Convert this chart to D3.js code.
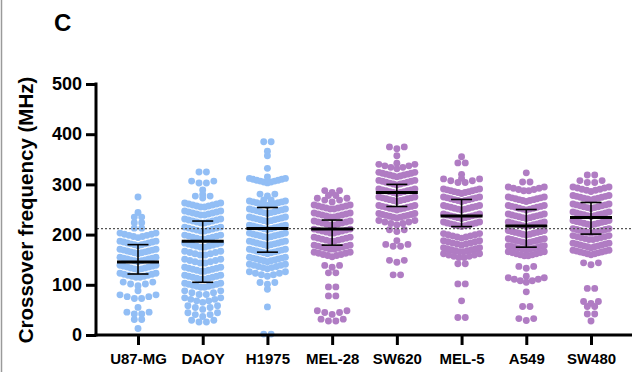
<!DOCTYPE html>
<html>
<head>
<meta charset="utf-8">
<script src="https://cdn.jsdelivr.net/npm/d3@7"></script>
<style>
  html, body { margin: 0; padding: 0; background: #fff; }
  svg { display: block; font-family: "Liberation Sans", Arial, sans-serif; }
</style>
</head>
<body>
<svg id="chart" width="632" height="372"></svg>
<script>
// Cell lines along the x axis
const cellLines = ["U87-MG", "DAOY", "H1975", "MEL-28", "SW620", "MEL-5", "A549", "SW480"];

// Crossover frequency of single cells: [MHz, number of cells at that value]
const u87mg = [[275,1],[244,1],[233,2],[222,2],[211,2],[194,9],[178,11],[162,11],[146,11],[130,11],[114,10],[98,5],[88,1],[71,6],[55,1],[40,4],[29,2],[13,1]];
const daoy  = [[323,2],[301,4],[289,1],[280,1],[273,3],[254,10],[238,10],[222,10],[206,10],[190,10],[174,10],[158,8],[142,8],[126,10],[110,10],[94,10],[79,6],[65,7],[51,5],[37,5],[24,4]];
const h1975 = [[383,2],[366,1],[357,1],[332,1],[315,1],[303,11],[277,3],[267,2],[258,11],[242,11],[226,11],[210,11],[194,11],[178,11],[162,11],[146,11],[132,9],[117,7],[101,3],[91,1],[56,1],[0,2]];
const mel28 = [[284,3],[276,2],[265,5],[250,10],[234,10],[218,10],[202,10],[186,10],[170,10],[156,9],[135,3],[122,2],[94,2],[76,2],[41,5],[26,4]];
const sw620 = [[371,3],[357,1],[342,1],[331,7],[315,11],[299,11],[282,11],[266,11],[249,11],[233,11],[219,7],[206,3],[188,1],[175,4],[145,3],[118,2]];
const mel5  = [[355,1],[341,2],[320,1],[312,1],[302,6],[282,11],[266,11],[249,11],[232,11],[216,11],[193,9],[179,9],[165,10],[153,8],[140,2],[100,2],[68,1],[33,2]];
const a549  = [[323,1],[303,2],[286,8],[266,11],[249,11],[232,11],[216,11],[199,11],[183,11],[169,11],[157,10],[133,3],[117,1],[105,7],[86,1],[55,2],[29,3]];
const sw480 = [[317,2],[302,4],[286,9],[269,11],[252,11],[236,11],[219,11],[203,11],[189,10],[174,11],[160,11],[140,3],[91,2],[63,3],[55,2],[40,2],[28,1]];
const cells = [u87mg, daoy, h1975, mel28, sw620, mel5, a549, sw480];

// Median with interquartile range per cell line (MHz)
const medians = [145.5, 187, 212, 211, 284, 237, 217, 234];
const q1      = [121.5, 105, 165, 179, 256, 216, 175, 201];
const q3      = [180, 227, 254, 229, 300, 270, 250, 264];

// Dotted reference level (MHz) and axis ticks
const referenceLevel = 212;
const yTicks = [0, 100, 200, 300, 400, 500];

const BLUE = "#92bef5", PURPLE = "#b07cc3";
const colorOf = i => (i < 3 ? BLUE : PURPLE);

const svg = d3.select("#chart");

const x = d3.scalePoint().domain(cellLines).range([138, 591]);
const y = d3.scaleLinear().domain([0, 500]).range([335, 84]);

// frame line on the left edge
svg.append("line").attr("x1", 1.5).attr("x2", 1.5).attr("y1", 0).attr("y2", 372)
  .attr("stroke", "#9a9a9a").attr("stroke-width", 1.5);

// panel letter
svg.append("text").attr("x", 54).attr("y", 31)
  .attr("font-size", 24).attr("font-weight", "bold").text("C");

// Prism-style scatter: cells sharing a value form a row, squeezed to the column width
const DOT = 6.9, MAX_SPREAD = 36, STEP = 7.4, RISE = 0.25;
function rowLayout(rows) {
  const pts = [];
  rows.forEach(([v, n]) => {
    const s = n > 1 ? Math.min(STEP, MAX_SPREAD / (n - 1)) : 0;
    for (let j = 0; j < n; j++) {
      const dx = (j - (n - 1) / 2) * s;
      pts.push({ v, dx, dy: -RISE * Math.abs(dx) });
    }
  });
  return pts;
}

const dotLayer = svg.append("g");
cells.forEach((rows, i) => {
  const cx = x(cellLines[i]);
  dotLayer.append("g")
    .selectAll("circle")
    .data(rowLayout(rows))
    .join("circle")
    .attr("cx", d => cx + d.dx)
    .attr("cy", d => y(d.v) + d.dy)
    .attr("r", DOT / 2)
    .attr("fill", colorOf(i));
});

// dotted reference line
svg.append("line")
  .attr("x1", 97).attr("x2", 632)
  .attr("y1", y(referenceLevel)).attr("y2", y(referenceLevel))
  .attr("stroke", "#555").attr("stroke-width", 1.3).attr("stroke-dasharray", "2,2");

// median and interquartile range
const stats = svg.append("g").attr("stroke", "#000");
cellLines.forEach((name, i) => {
  const cx = x(name);
  stats.append("line").attr("x1", cx).attr("x2", cx)
    .attr("y1", y(q1[i])).attr("y2", y(q3[i])).attr("stroke-width", 1.6);
  [q1[i], q3[i]].forEach(v => {
    stats.append("line").attr("x1", cx - 10.5).attr("x2", cx + 10.5)
      .attr("y1", y(v)).attr("y2", y(v)).attr("stroke-width", 1.6);
  });
  stats.append("line").attr("x1", cx - 21).attr("x2", cx + 21)
    .attr("y1", y(medians[i])).attr("y2", y(medians[i])).attr("stroke-width", 3);
});

// axes
const yAxis = svg.append("g").attr("transform", "translate(96,0)")
  .call(d3.axisLeft(y).tickValues(yTicks).tickSize(10).tickPadding(4));
yAxis.select(".domain").remove();
yAxis.selectAll(".tick line").attr("stroke", "#000").attr("stroke-width", 3);
yAxis.selectAll(".tick text").attr("font-size", 18).attr("font-weight", "bold")
  .attr("fill", "#000").attr("font-family", "Liberation Sans, Arial, sans-serif");

const xAxis = svg.append("g").attr("transform", "translate(0,335)")
  .call(d3.axisBottom(x).tickSize(10).tickPadding(8));
xAxis.select(".domain").remove();
xAxis.selectAll(".tick line").attr("stroke", "#000").attr("stroke-width", 3);
xAxis.selectAll(".tick text").attr("font-size", 15).attr("font-weight", "bold")
  .attr("fill", "#000").attr("font-family", "Liberation Sans, Arial, sans-serif");

svg.append("line").attr("x1", 96).attr("x2", 96)
  .attr("y1", y(500) - 1.5).attr("y2", y(0) + 1.5)
  .attr("stroke", "#000").attr("stroke-width", 3);
svg.append("line").attr("x1", 94.5).attr("x2", 632)
  .attr("y1", y(0)).attr("y2", y(0))
  .attr("stroke", "#000").attr("stroke-width", 3);

// y axis title
svg.append("text")
  .attr("transform", "translate(33,210) rotate(-90)")
  .attr("text-anchor", "middle")
  .attr("font-size", 20.5).attr("font-weight", "bold")
  .text("Crossover frequency (MHz)");
</script>
</body>
</html>
